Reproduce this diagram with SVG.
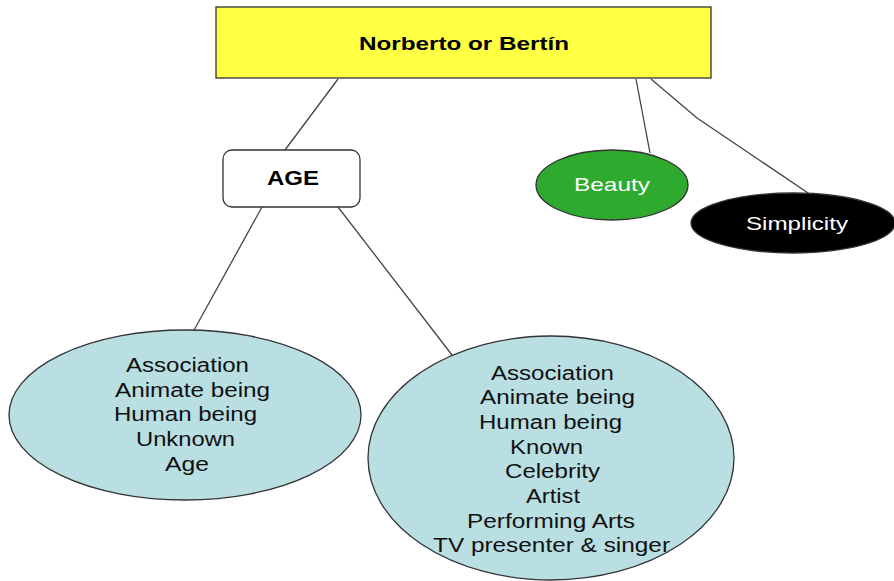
<svg xmlns="http://www.w3.org/2000/svg" width="894" height="581" viewBox="0 0 894 581">
  <style>
    .edge { stroke: #444; stroke-width: 1.3; fill: none; }
    .shape { stroke: #333; stroke-width: 1.3; }
    .lbl { font-family: "Liberation Sans", Arial, sans-serif; text-anchor: middle; }
    .bold { font-weight: bold; font-size: 19px; fill: #000; }
    .list { font-size: 20px; fill: #111; }
    .light { font-size: 19px; fill: #fff; }
  </style>
  <rect width="894" height="581" fill="#fff"/>

  <!-- connectors -->
  <g id="connectors">
    <line class="edge" x1="338" y1="79" x2="285" y2="150"/>
    <line class="edge" x1="636" y1="79" x2="650" y2="153"/>
    <polyline class="edge" points="651,79 697,118 811,195"/>
    <line class="edge" x1="262" y1="207" x2="193" y2="332"/>
    <line class="edge" x1="338" y1="207" x2="452" y2="355"/>
  </g>

  <!-- root -->
  <g id="root">
    <rect class="shape" x="216" y="7" width="495" height="71" fill="#ffff44"/>
    <text class="lbl bold" x="464" y="50" textLength="210" lengthAdjust="spacingAndGlyphs">Norberto or Bertín</text>
  </g>

  <!-- age -->
  <g id="age">
    <rect class="shape" x="223" y="150" width="137" height="57" rx="9" fill="#fff"/>
    <text class="lbl bold" x="293" y="185" style="font-size:20px" textLength="52" lengthAdjust="spacingAndGlyphs">AGE</text>
  </g>

  <!-- beauty -->
  <g id="beauty">
    <ellipse class="shape" cx="612" cy="185" rx="76" ry="35" fill="#2eaa2e"/>
    <text class="lbl light" x="612" y="191" textLength="76" lengthAdjust="spacingAndGlyphs">Beauty</text>
  </g>

  <!-- simplicity -->
  <g id="simplicity">
    <ellipse class="shape" cx="793" cy="223" rx="102" ry="30" fill="#000"/>
    <text class="lbl light" x="797" y="230" textLength="102" lengthAdjust="spacingAndGlyphs">Simplicity</text>
  </g>

  <!-- unknown person -->
  <g id="unknown">
    <ellipse class="shape" cx="185" cy="415" rx="176" ry="85" fill="#b9dfe3"/>
    <text class="lbl list" x="187.5" y="372" textLength="123" lengthAdjust="spacingAndGlyphs">Association</text>
    <text class="lbl list" x="192.5" y="397" textLength="155" lengthAdjust="spacingAndGlyphs">Animate being</text>
    <text class="lbl list" x="185.5" y="421" textLength="143" lengthAdjust="spacingAndGlyphs">Human being</text>
    <text class="lbl list" x="185.5" y="446" textLength="99" lengthAdjust="spacingAndGlyphs">Unknown</text>
    <text class="lbl list" x="187" y="471" textLength="44" lengthAdjust="spacingAndGlyphs">Age</text>
  </g>

  <!-- known person -->
  <g id="known">
    <ellipse class="shape" cx="551" cy="458" rx="183" ry="122" fill="#b9dfe3"/>
    <text class="lbl list" x="552.5" y="380" textLength="123" lengthAdjust="spacingAndGlyphs">Association</text>
    <text class="lbl list" x="557.5" y="404" textLength="155" lengthAdjust="spacingAndGlyphs">Animate being</text>
    <text class="lbl list" x="550.5" y="429" textLength="143" lengthAdjust="spacingAndGlyphs">Human being</text>
    <text class="lbl list" x="546.5" y="454" textLength="73" lengthAdjust="spacingAndGlyphs">Known</text>
    <text class="lbl list" x="552.5" y="478" textLength="95" lengthAdjust="spacingAndGlyphs">Celebrity</text>
    <text class="lbl list" x="553" y="503" textLength="54" lengthAdjust="spacingAndGlyphs">Artist</text>
    <text class="lbl list" x="551" y="528" textLength="168" lengthAdjust="spacingAndGlyphs">Performing Arts</text>
    <text class="lbl list" x="551.5" y="552" textLength="237" lengthAdjust="spacingAndGlyphs">TV presenter &amp; singer</text>
  </g>
</svg>
